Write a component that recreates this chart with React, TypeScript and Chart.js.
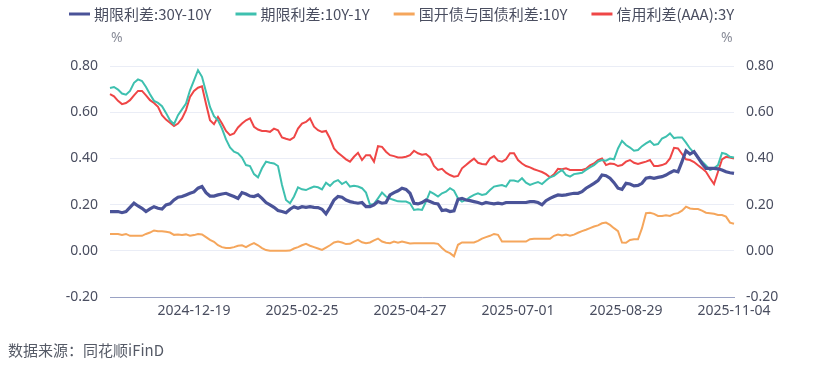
import React, { useEffect, useRef } from 'react';
import { Chart, registerables } from 'chart.js';

Chart.register(...registerables);

// ---- categories (trading dates, sampled) ----
const dates: string[] = [
  '2024-11-05','2024-11-07','2024-11-08','2024-11-12','2024-11-13','2024-11-15','2024-11-18','2024-11-20','2024-11-21','2024-11-25','2024-11-26','2024-11-28','2024-11-29','2024-12-03','2024-12-04','2024-12-06','2024-12-09','2024-12-11','2024-12-12','2024-12-16','2024-12-17','2024-12-19',
  '2024-12-20','2024-12-24','2024-12-25','2024-12-27','2024-12-30','2025-01-02','2025-01-03','2025-01-07','2025-01-08','2025-01-10','2025-01-13','2025-01-15','2025-01-16','2025-01-20','2025-01-21','2025-01-23','2025-01-24','2025-01-27','2025-02-05','2025-02-07','2025-02-10','2025-02-12','2025-02-13','2025-02-17','2025-02-19','2025-02-21','2025-02-25',
  '2025-02-26','2025-02-28','2025-03-03','2025-03-05','2025-03-06','2025-03-10','2025-03-11','2025-03-13','2025-03-14','2025-03-18','2025-03-19','2025-03-21','2025-03-24','2025-03-26','2025-03-27','2025-03-31','2025-04-01','2025-04-03','2025-04-07','2025-04-09','2025-04-10','2025-04-14','2025-04-15','2025-04-17','2025-04-21','2025-04-23','2025-04-27',
  '2025-04-28','2025-04-30','2025-05-06','2025-05-08','2025-05-09','2025-05-13','2025-05-14','2025-05-16','2025-05-19','2025-05-21','2025-05-22','2025-05-26','2025-05-27','2025-05-29','2025-06-03','2025-06-04','2025-06-06','2025-06-10','2025-06-11','2025-06-13','2025-06-16','2025-06-18','2025-06-19','2025-06-23','2025-06-25','2025-06-27','2025-07-01',
  '2025-07-02','2025-07-04','2025-07-07','2025-07-09','2025-07-10','2025-07-14','2025-07-15','2025-07-17','2025-07-18','2025-07-22','2025-07-23','2025-07-25','2025-07-28','2025-07-30','2025-07-31','2025-08-04','2025-08-05','2025-08-07','2025-08-08','2025-08-12','2025-08-13','2025-08-15','2025-08-18','2025-08-20','2025-08-22','2025-08-26','2025-08-29',
  '2025-09-01','2025-09-03','2025-09-04','2025-09-08','2025-09-09','2025-09-11','2025-09-12','2025-09-16','2025-09-17','2025-09-19','2025-09-22','2025-09-24','2025-09-25','2025-09-29','2025-09-30','2025-10-10','2025-10-11','2025-10-14','2025-10-15','2025-10-17','2025-10-20','2025-10-22','2025-10-23','2025-10-27','2025-10-29','2025-10-31','2025-11-04',
];

const tickLabels: string[] = ['2024-12-19', '2025-02-25', '2025-04-27', '2025-07-01', '2025-08-29', '2025-11-04'];
const yTicks: number[] = [-0.2, 0, 0.2, 0.4, 0.6, 0.8];

// ---- series (%) ----
const spread30y10y: number[] = [
  0.170,0.170,0.170,0.165,0.170,0.188,0.206,0.194,0.184,0.170,0.181,0.191,0.184,0.181,0.199,0.203,0.220,0.232,0.235,0.242,0.249,0.255,0.271,0.278,0.252,0.237,
  0.237,0.242,0.246,0.249,0.242,0.235,0.227,0.252,0.246,0.237,0.235,0.242,0.227,0.209,0.199,0.188,0.174,0.170,0.165,0.180,0.191,0.184,0.191,0.188,0.191,0.188,
  0.187,0.180,0.160,0.188,0.220,0.235,0.232,0.220,0.213,0.209,0.206,0.209,0.191,0.191,0.199,0.213,0.206,0.209,0.242,0.252,0.260,0.271,0.266,0.249,0.206,0.203,
  0.209,0.220,0.213,0.206,0.203,0.174,0.177,0.170,0.173,0.223,0.227,0.220,0.217,0.213,0.209,0.203,0.209,0.206,0.203,0.206,0.203,0.209,0.209,0.209,0.209,0.209,
  0.209,0.213,0.213,0.209,0.199,0.217,0.227,0.235,0.242,0.240,0.242,0.246,0.249,0.249,0.256,0.271,0.281,0.292,0.304,0.328,0.325,0.314,0.295,0.271,0.266,0.292,
  0.289,0.281,0.283,0.292,0.314,0.318,0.314,0.318,0.321,0.328,0.338,0.347,0.342,0.386,0.433,0.419,0.429,0.404,0.378,0.357,0.357,0.357,0.355,0.350,0.342,0.338,0.335,
];

const spread10y1y: number[] = [
  0.705,0.709,0.698,0.681,0.676,0.692,0.727,0.742,0.735,0.709,0.678,0.649,0.640,0.626,0.597,0.565,0.548,0.587,0.612,0.637,0.695,0.738,0.782,0.753,0.688,0.623,
  0.583,0.565,0.529,0.482,0.447,0.429,0.422,0.404,0.371,0.367,0.332,0.318,0.357,0.386,0.381,0.378,0.367,0.285,0.220,0.206,0.235,0.275,0.266,0.263,0.271,0.278,
  0.275,0.266,0.295,0.281,0.299,0.306,0.289,0.299,0.278,0.281,0.278,0.271,0.252,0.199,0.203,0.227,0.252,0.235,0.226,0.220,0.214,0.213,0.213,0.206,0.177,0.180,
  0.177,0.213,0.256,0.246,0.235,0.249,0.256,0.271,0.260,0.227,0.213,0.220,0.232,0.242,0.249,0.242,0.246,0.263,0.278,0.282,0.285,0.278,0.304,0.304,0.299,0.314,
  0.295,0.285,0.292,0.298,0.289,0.304,0.318,0.324,0.338,0.350,0.328,0.321,0.332,0.335,0.338,0.350,0.361,0.371,0.386,0.393,0.390,0.399,0.396,0.443,0.476,0.458,
  0.447,0.433,0.436,0.453,0.465,0.475,0.458,0.462,0.486,0.494,0.508,0.488,0.491,0.491,0.468,0.443,0.424,0.404,0.387,0.370,0.350,0.357,0.371,0.424,0.419,0.407,0.404,
];

const spreadCdbGov10y: number[] = [
  0.073,0.073,0.073,0.069,0.073,0.065,0.065,0.065,0.065,0.073,0.079,0.088,0.085,0.085,0.082,0.079,0.069,0.071,0.068,0.071,0.065,0.068,0.073,0.071,0.059,0.047,
  0.039,0.024,0.016,0.012,0.012,0.016,0.022,0.024,0.016,0.026,0.033,0.024,0.012,0.003,0.000,0.000,0.000,0.000,0.000,0.001,0.010,0.016,0.024,0.030,0.022,0.016,
  0.010,0.004,0.014,0.024,0.036,0.040,0.036,0.029,0.030,0.040,0.047,0.037,0.033,0.036,0.045,0.053,0.040,0.035,0.033,0.040,0.035,0.040,0.036,0.032,0.033,0.033,
  0.033,0.033,0.033,0.033,0.030,0.012,-0.003,-0.010,-0.024,0.026,0.036,0.036,0.036,0.036,0.043,0.053,0.059,0.065,0.073,0.069,0.040,0.040,0.040,0.040,0.040,0.040,
  0.040,0.050,0.052,0.052,0.052,0.052,0.052,0.065,0.070,0.066,0.070,0.065,0.070,0.078,0.085,0.091,0.098,0.105,0.110,0.119,0.122,0.112,0.098,0.085,0.036,0.035,
  0.047,0.050,0.050,0.098,0.163,0.165,0.160,0.151,0.151,0.154,0.151,0.160,0.163,0.174,0.191,0.183,0.181,0.181,0.174,0.165,0.163,0.160,0.155,0.155,0.148,0.122,0.117,
];

const creditAAA3y: number[] = [
  0.678,0.669,0.649,0.635,0.640,0.652,0.673,0.692,0.692,0.673,0.652,0.640,0.623,0.587,0.568,0.554,0.540,0.551,0.573,0.609,0.666,0.692,0.706,0.712,0.637,0.565,
  0.548,0.579,0.551,0.519,0.501,0.508,0.534,0.551,0.565,0.573,0.537,0.525,0.519,0.519,0.515,0.529,0.522,0.491,0.485,0.480,0.491,0.529,0.551,0.558,0.573,0.537,
  0.522,0.515,0.519,0.486,0.443,0.424,0.410,0.396,0.386,0.407,0.424,0.393,0.414,0.414,0.386,0.453,0.450,0.429,0.414,0.410,0.404,0.404,0.407,0.414,0.433,0.422,
  0.416,0.419,0.404,0.367,0.350,0.355,0.338,0.328,0.321,0.324,0.357,0.371,0.386,0.399,0.381,0.376,0.374,0.400,0.410,0.390,0.386,0.396,0.422,0.422,0.393,0.378,
  0.367,0.361,0.353,0.347,0.341,0.332,0.318,0.331,0.355,0.353,0.357,0.350,0.350,0.350,0.350,0.355,0.370,0.378,0.393,0.400,0.371,0.378,0.376,0.367,0.371,0.386,
  0.393,0.381,0.376,0.381,0.386,0.393,0.367,0.367,0.371,0.378,0.400,0.446,0.443,0.419,0.396,0.393,0.384,0.370,0.357,0.342,0.314,0.289,0.342,0.396,0.407,0.404,0.399,
];

const seriesNames: string[] = ['期限利差:30Y-10Y', '期限利差:10Y-1Y', '国开债与国债利差:10Y', '信用利差(AAA):3Y'];
const seriesColors: string[] = ['#4a5398', '#3ec0af', '#f5a65c', '#ef4646'];
const seriesWidths: number[] = [3.2, 2, 2, 2];

const FONT_CJK = '"Noto Sans CJK SC", "Noto Sans", sans-serif';
const FONT_NUM = '"Noto Sans", "Open Sans", sans-serif';
const TEXT_COLOR = '#4a4e60';

export default function App() {
  const canvasRef = useRef<HTMLCanvasElement | null>(null);

  useEffect(() => {
    const canvas = canvasRef.current;
    if (!canvas) return;
    const values = [spread30y10y, spread10y1y, spreadCdbGov10y, creditAAA3y];
    const tickIdx = tickLabels.map((t) => dates.indexOf(t));

    const legendPlugin = {
      id: 'topLegend',
      afterDraw(chart: any) {
        const ctx = chart.ctx as CanvasRenderingContext2D;
        ctx.save();
        ctx.font = `15px ${FONT_CJK}`;
        ctx.textBaseline = 'middle';
        ctx.textAlign = 'left';
        let x = 69;
        const y = 14;
        seriesNames.forEach((name, i) => {
          ctx.strokeStyle = seriesColors[i];
          ctx.lineWidth = 3;
          ctx.beginPath();
          ctx.moveTo(x, y);
          ctx.lineTo(x + 21, y);
          ctx.stroke();
          ctx.fillStyle = TEXT_COLOR;
          ctx.fillText(name, x + 25, y);
          x += 25 + ctx.measureText(name).width + 24;
        });
        ctx.restore();
      },
    };

    const tickFont = { size: 14, family: FONT_NUM };

    const chart = new Chart(canvas, {
      type: 'line',
      data: {
        labels: dates,
        datasets: seriesNames.map((name, i) => ({
          label: name,
          data: values[i],
          borderColor: seriesColors[i],
          backgroundColor: seriesColors[i],
          borderWidth: seriesWidths[i],
          pointRadius: 0,
          pointHoverRadius: 0,
          tension: 0,
          fill: false,
          yAxisID: 'y',
        })),
      },
      options: {
        responsive: false,
        animation: false,
        devicePixelRatio: 1,
        layout: { padding: { left: 0, right: 0, top: 66, bottom: 42 } },
        plugins: {
          legend: { display: false },
          tooltip: { enabled: false },
          title: { display: false },
        },
        scales: {
          x: {
            type: 'category',
            offset: false,
            grid: { display: false, drawTicks: false },
            border: { display: true, color: '#9aa2c4', width: 1 },
            ticks: {
              autoSkip: false,
              maxRotation: 0,
              minRotation: 0,
              padding: 6,
              color: TEXT_COLOR,
              font: tickFont,
            },
            afterBuildTicks: (axis: any) => {
              axis.ticks = tickIdx.map((v) => ({ value: v }));
            },
            afterFit: (s: any) => {
              s.height = 30;
            },
          },
          y: {
            position: 'left',
            min: -0.2,
            max: 0.8,
            grid: { color: '#eaedf6', lineWidth: 1, drawTicks: false },
            border: { display: false },
            ticks: {
              padding: 12,
              color: TEXT_COLOR,
              font: tickFont,
              callback: (v: any) => Number(v).toFixed(2),
            },
            afterBuildTicks: (axis: any) => {
              axis.ticks = yTicks.map((v) => ({ value: v }));
            },
            afterFit: (s: any) => {
              s.width = 110;
            },
          },
          y1: {
            position: 'right',
            min: -0.2,
            max: 0.8,
            grid: { display: false, drawTicks: false },
            border: { display: false },
            ticks: {
              padding: 12,
              color: TEXT_COLOR,
              font: tickFont,
              callback: (v: any) => Number(v).toFixed(2),
            },
            afterBuildTicks: (axis: any) => {
              axis.ticks = yTicks.map((v) => ({ value: v }));
            },
            afterFit: (s: any) => {
              s.width = 96;
            },
          },
        },
      } as any,
      plugins: [legendPlugin],
    });

    return () => {
      chart.destroy();
    };
  }, []);

  return (
    <div style={{ position: 'fixed', left: 0, top: 0, width: 830, height: 369, background: '#ffffff', overflow: 'hidden' }}>
      <canvas ref={canvasRef} width={830} height={369} style={{ display: 'block', width: 830, height: 369 }} />
      <div style={{ position: 'absolute', left: 111, top: 28, fontFamily: FONT_NUM, fontSize: 14, lineHeight: '18px', color: '#8a8d99' }}>%</div>
      <div style={{ position: 'absolute', left: 721, top: 28, fontFamily: FONT_NUM, fontSize: 14, lineHeight: '18px', color: '#8a8d99' }}>%</div>
      <div style={{ position: 'absolute', left: 8, top: 341, fontFamily: FONT_CJK, fontSize: 15, lineHeight: '18px', color: '#555a66', whiteSpace: 'nowrap' }}>数据来源：同花顺iFinD</div>
    </div>
  );
}
